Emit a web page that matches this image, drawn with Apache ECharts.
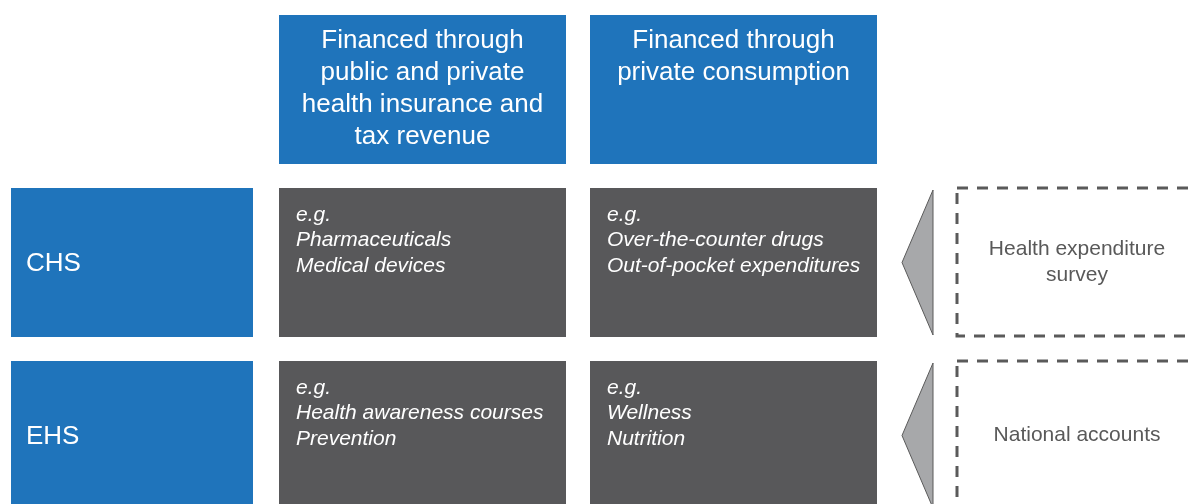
<!DOCTYPE html>
<html>
<head>
<meta charset="utf-8">
<title>CHS / EHS financing</title>
<script src="https://cdn.jsdelivr.net/npm/echarts@6/dist/echarts.min.js"></script>
<style>
  html, body { margin: 0; padding: 0; background: #fff; }
  #main { width: 1189px; height: 504px; }
</style>
</head>
<body>
<div id="main"></div>
<script>
// content
const columnHeaders = [
  'Financed through\npublic and private\nhealth insurance and\ntax revenue',
  'Financed through\nprivate consumption'
]
const rowLabels = ['CHS', 'EHS']
const cellExamples = [
  [['Pharmaceuticals', 'Medical devices'], ['Over-the-counter drugs', 'Out-of-pocket expenditures']],
  [['Health awareness courses', 'Prevention'], ['Wellness', 'Nutrition']]
]
const dataSources = ['Health expenditure\nsurvey', 'National accounts']

// layout (pixel units on hidden axes)
const labelX = 11, labelW = 242
const colX = [279, 590], colW = 287
const rowY = [15, 188, 361], rowH = 149
const arrowX = 902, arrowW = 31
const sourceX = 957, sourceW = 240

const BLUE = '#1f74bb'
const DARK = '#58585a'
const FONT = '"Liberation Sans", Arial, sans-serif'

function rectOf(api, x, y, w, h) {
  const p0 = api.coord([x, y])
  const p1 = api.coord([x + w, y + h])
  return {x: p0[0], y: p0[1], width: p1[0] - p0[0], height: p1[1] - p0[1]}
}

const headerSeries = {
  type: 'custom',
  clip: false,
  data: columnHeaders.map((t, i) => [i]),
  renderItem(params, api) {
    const i = params.dataIndex
    const r = rectOf(api, colX[i], rowY[0], colW, rowH)
    return {
      type: 'group',
      children: [
        {type: 'rect', shape: r, style: {fill: BLUE}},
        {type: 'text', style: {
          text: columnHeaders[i], x: r.x + r.width / 2, y: r.y + 10,
          align: 'center', verticalAlign: 'top', lineHeight: 32,
          font: '26px ' + FONT, fill: '#fff'
        }}
      ]
    }
  }
}

const rowSeries = {
  type: 'custom',
  clip: false,
  data: rowLabels.map((t, i) => [i]),
  renderItem(params, api) {
    const i = params.dataIndex
    const r = rectOf(api, labelX, rowY[i + 1], labelW, rowH)
    return {
      type: 'group',
      children: [
        {type: 'rect', shape: r, style: {fill: BLUE}},
        {type: 'text', style: {
          text: rowLabels[i], x: r.x + 15, y: r.y + r.height / 2 + 1,
          align: 'left', verticalAlign: 'middle',
          font: '26px ' + FONT, fill: '#fff'
        }}
      ]
    }
  }
}

const cellData = []
cellExamples.forEach((row, ri) => row.forEach((c, ci) => cellData.push([ri, ci])))

const cellSeries = {
  type: 'custom',
  clip: false,
  data: cellData,
  renderItem(params, api) {
    const ri = api.value(0), ci = api.value(1)
    const r = rectOf(api, colX[ci], rowY[ri + 1], colW, rowH)
    return {
      type: 'group',
      children: [
        {type: 'rect', shape: r, style: {fill: DARK}},
        {type: 'text', style: {
          text: ['e.g.'].concat(cellExamples[ri][ci]).join('\n'),
          x: r.x + 17, y: r.y + 14,
          align: 'left', verticalAlign: 'top', lineHeight: 25.5,
          font: 'italic 21px ' + FONT, fill: '#fff'
        }}
      ]
    }
  }
}

const sourceSeries = {
  type: 'custom',
  clip: false,
  data: dataSources.map((t, i) => [i]),
  renderItem(params, api) {
    const i = params.dataIndex
    const top = rowY[i + 1]
    const a0 = api.coord([arrowX + arrowW, top + 2])
    const a1 = api.coord([arrowX, top + rowH / 2])
    const a2 = api.coord([arrowX + arrowW, top + rowH - 2])
    const r = rectOf(api, sourceX, top, sourceW, rowH - 1)
    return {
      type: 'group',
      children: [
        {type: 'polygon', shape: {points: [a0, a1, a2]},
          style: {fill: '#a7a8aa', stroke: '#5a5a5a', lineWidth: 1}},
        {type: 'rect', shape: r,
          style: {fill: 'none', stroke: '#5a5a5a', lineWidth: 3, lineDash: [11, 9]}},
        {type: 'text', style: {
          text: dataSources[i], x: r.x + r.width / 2, y: r.y + rowH / 2,
          align: 'center', verticalAlign: 'middle', lineHeight: 26,
          font: '21px ' + FONT, fill: '#595959'
        }}
      ]
    }
  }
}

const chart = echarts.init(document.getElementById('main'))
chart.setOption({
  animation: false,
  grid: {left: 0, right: 0, top: 0, bottom: 0},
  xAxis: {type: 'value', min: 0, max: 1189, show: false},
  yAxis: {type: 'value', min: 0, max: 504, inverse: true, show: false},
  series: [headerSeries, rowSeries, cellSeries, sourceSeries]
})
</script>
</body>
</html>
